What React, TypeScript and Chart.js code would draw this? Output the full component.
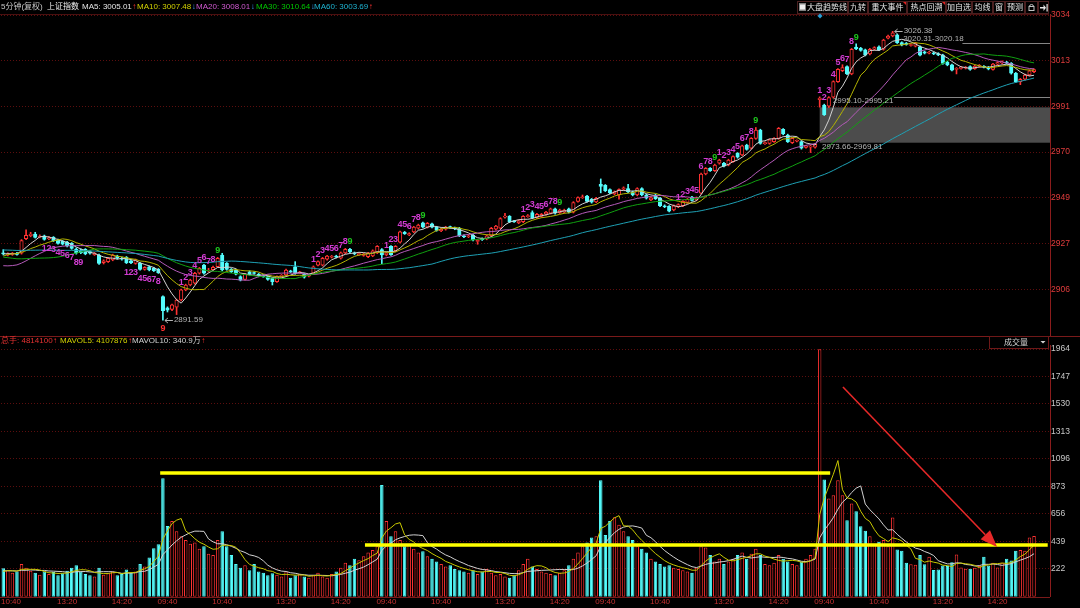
import React, { useEffect, useRef } from "react";
import { Chart, registerables } from "chart.js";
Chart.register(...registerables);

// ================= DATA =================
// 5-minute sessions of one trading day (categories)
const sessionTimes = [
  "09:35","09:40","09:45","09:50","09:55","10:00","10:05","10:10","10:15","10:20","10:25","10:30",
  "10:35","10:40","10:45","10:50","10:55","11:00","11:05","11:10","11:15","11:20","11:25","11:30",
  "13:05","13:10","13:15","13:20","13:25","13:30","13:35","13:40","13:45","13:50","13:55","14:00",
  "14:05","14:10","14:15","14:20","14:25","14:30","14:35","14:40","14:45","14:50","14:55","15:00",
];
const firstDayStart = 13; // first visible bar is 10:40
const fullDays = 4;
const padSlots = 3;
const shownTimes = ["09:40", "10:40", "13:20", "14:20"];

const opens = [
  // day 1
  2923.0,2922.0,2922.3,2922.8,2922.8,2929.6,2931.0,2931.8,2930.4,2930.9,2929.6,2930.2,2929.0,2928.4,2928.0,2927.4,2924.8,2924.4,2924.6,2923.6,2922.2,2922.0,2918.4,2918.9,2919.7,2921.5,2920.6,2920.9,2919.3,2918.1,2918.1,2915.3,2916.5,2915.8,2915.3,
  // day 2
  2902.6,2897.4,2896.6,2897.6,2901.0,2905.7,2908.0,2908.8,2913.5,2917.3,2914.6,2915.2,2916.6,2922.0,2918.1,2915.3,2915.0,2911.9,2910.6,2914.2,2913.8,2913.0,2912.3,2911.9,2911.1,2909.6,2912.0,2912.7,2914.5,2916.5,2913.8,2913.1,2912.2,2913.5,2917.3,2917.3,2920.0,2921.0,2921.5,2920.5,2923.0,2924.7,2923.0,2922.2,2921.8,2921.2,2921.6,2923.0,
  // day 3
  2924.5,2922.0,2926.0,2924.0,2928.0,2932.6,2931.4,2932.8,2934.5,2937.0,2935.0,2936.5,2935.0,2933.3,2934.0,2935.1,2934.6,2934.5,2931.0,2930.5,2931.3,2928.3,2929.6,2929.5,2931.0,2934.0,2934.5,2939.6,2940.0,2937.8,2937.0,2937.5,2940.0,2941.8,2939.5,2940.0,2941.0,2941.5,2943.5,2941.8,2942.0,2943.5,2942.0,2947.0,2948.8,2949.5,2948.0,2946.8,
  // day 4
  2955.0,2954.5,2952.5,2950.5,2950.0,2952.7,2953.0,2951.5,2950.0,2953.0,2950.0,2947.7,2950.0,2948.5,2945.0,2944.7,2943.0,2944.5,2945.0,2946.5,2949.0,2947.7,2950.8,2959.8,2962.4,2961.4,2964.8,2964.8,2964.0,2965.6,2969.4,2968.7,2973.3,2971.8,2976.4,2980.3,2974.0,2974.1,2974.9,2976.4,2980.6,2978.0,2974.4,2975.2,2974.9,2972.2,2972.4,2972.3,
  // day 5
  2994.5,2992.0,2991.5,2995.6,3002.9,3008.0,3009.9,3006.5,3019.0,3018.5,3017.7,3015.8,3018.0,3019.2,3018.0,3023.2,3024.2,3024.7,3021.1,3020.8,3019.8,3019.5,3019.2,3016.8,3016.2,3016.3,3016.0,3015.3,3012.0,3010.7,3008.6,3009.1,3009.2,3009.9,3009.0,3010.1,3010.0,3009.6,3008.6,3011.1,3011.6,3012.0,3011.4,3006.8,3002.9,3004.0,3006.0,3007.5,
];
const closes = [
  2922.5,2922.6,2922.8,2922.3,2928.7,2931.2,2931.8,2930.2,2930.8,2929.3,2930.0,2928.7,2927.4,2927.1,2926.2,2925.1,2922.8,2923.1,2922.5,2922.8,2922.8,2918.1,2919.3,2920.4,2922.0,2920.5,2920.0,2918.4,2918.4,2919.7,2915.3,2916.2,2915.0,2914.7,2913.8,
  2896.0,2896.2,2898.7,2901.0,2905.7,2908.0,2910.3,2913.5,2915.8,2913.5,2915.0,2916.2,2920.5,2915.0,2915.3,2914.2,2913.1,2910.3,2913.1,2913.1,2913.4,2912.2,2912.0,2910.6,2909.6,2911.9,2912.5,2915.0,2914.2,2913.4,2914.0,2911.6,2912.5,2916.5,2918.9,2920.5,2921.5,2921.4,2921.0,2923.0,2924.7,2923.5,2922.5,2922.6,2922.4,2922.9,2924.0,2926.0,
  2922.0,2923.0,2922.2,2926.0,2932.8,2932.0,2932.0,2935.0,2936.0,2935.0,2936.8,2935.0,2933.5,2934.0,2935.0,2934.9,2934.2,2931.0,2930.5,2931.0,2929.0,2928.8,2929.2,2931.0,2934.5,2935.5,2939.0,2940.2,2937.5,2937.6,2938.0,2940.0,2940.3,2939.3,2941.0,2941.0,2942.0,2943.5,2941.5,2943.0,2943.0,2942.0,2946.5,2948.8,2949.1,2947.0,2946.6,2948.5,
  2954.0,2952.0,2951.0,2951.5,2952.5,2953.4,2951.5,2950.0,2953.0,2950.0,2948.5,2948.7,2948.3,2945.0,2944.5,2942.5,2945.0,2945.5,2947.0,2948.0,2947.5,2948.7,2959.8,2962.4,2961.4,2964.0,2966.3,2963.5,2966.3,2967.9,2967.6,2972.9,2971.3,2976.4,2980.3,2974.1,2974.4,2975.7,2976.4,2981.1,2978.5,2974.9,2976.4,2975.4,2971.8,2972.8,2972.8,2973.66,
  2995.2,2987.5,2995.5,3002.9,3008.6,3009.5,3006.5,3018.0,3018.2,3017.5,3015.3,3018.0,3018.8,3017.7,3022.3,3024.2,3025.7,3021.1,3020.0,3020.3,3020.2,3020.8,3015.3,3016.2,3016.6,3015.9,3015.4,3011.4,3010.7,3008.3,3009.1,3009.6,3009.6,3008.6,3010.2,3010.5,3009.7,3008.8,3011.1,3011.8,3012.2,3011.5,3006.8,3002.9,3004.0,3006.0,3008.0,3008.5,
];
const highs = [
  2924.5,2923.0,2923.2,2923.3,2929.2,2933.7,2932.6,2932.6,2931.4,2931.3,2930.6,2930.6,2929.4,2928.8,2928.4,2927.8,2925.3,2924.8,2925.0,2924.0,2923.2,2922.4,2919.8,2920.8,2922.4,2921.9,2921.0,2921.3,2919.7,2920.1,2918.5,2916.6,2916.9,2916.2,2915.7,
  2903.0,2897.8,2899.1,2901.4,2906.1,2908.4,2910.7,2913.9,2916.2,2917.7,2915.8,2916.8,2920.9,2922.8,2918.5,2915.7,2915.4,2912.3,2913.5,2914.6,2914.2,2913.4,2912.7,2912.3,2911.5,2912.3,2912.9,2915.4,2914.9,2918.9,2914.4,2913.5,2912.9,2916.9,2919.3,2920.9,2921.9,2921.8,2921.9,2923.4,2925.1,2925.1,2923.4,2923.0,2922.8,2923.3,2924.4,2926.4,
  2925.0,2923.4,2926.4,2926.4,2933.2,2933.0,2932.4,2935.4,2936.4,2937.4,2937.2,2936.9,2935.4,2934.4,2935.4,2935.5,2935.0,2934.9,2931.4,2931.4,2931.7,2929.2,2930.0,2931.4,2934.9,2935.9,2939.4,2941.5,2940.4,2938.2,2938.4,2940.4,2940.9,2942.6,2941.4,2941.4,2942.4,2943.9,2943.9,2943.4,2943.4,2943.9,2946.9,2949.2,2950.0,2949.9,2948.4,2948.9,
  2957.5,2954.9,2952.9,2951.9,2952.9,2953.8,2955.0,2951.9,2953.4,2953.4,2950.4,2949.1,2950.4,2948.9,2945.4,2945.1,2945.4,2945.9,2947.4,2948.4,2949.4,2949.1,2960.2,2962.8,2962.8,2964.4,2966.7,2965.2,2966.7,2968.3,2969.8,2973.3,2973.7,2976.8,2981.5,2980.7,2974.8,2976.1,2976.8,2981.5,2981.0,2978.4,2976.8,2975.8,2975.3,2973.2,2973.2,2974.1,
  2995.8,2992.4,2995.9,3003.3,3009.0,3010.8,3010.3,3018.4,3020.5,3018.9,3018.1,3018.4,3019.2,3019.6,3022.7,3024.6,3026.38,3025.1,3021.5,3021.2,3020.6,3021.2,3019.6,3017.2,3017.0,3016.7,3016.4,3015.7,3012.4,3011.1,3009.5,3010.0,3010.0,3010.3,3010.6,3010.9,3010.4,3010.0,3011.5,3012.2,3012.6,3012.4,3011.8,3007.2,3004.4,3006.4,3008.4,3008.9,
];
const lows = [
  2922.0,2921.6,2921.8,2921.9,2922.4,2929.2,2930.5,2929.9,2930.0,2928.9,2929.2,2928.3,2927.0,2926.7,2925.8,2924.7,2922.4,2922.6,2922.1,2922.4,2921.8,2917.6,2917.8,2918.5,2919.3,2920.1,2919.6,2918.0,2918.0,2917.7,2914.9,2914.9,2914.6,2914.3,2913.4,
  2891.59,2895.4,2896.0,2894.2,2900.6,2905.3,2907.6,2908.4,2913.1,2913.1,2914.0,2914.8,2916.2,2914.6,2914.9,2913.8,2912.7,2909.9,2910.2,2912.7,2913.0,2911.8,2911.6,2910.2,2908.0,2909.2,2911.6,2912.3,2913.8,2913.0,2913.4,2911.2,2911.8,2913.1,2916.9,2916.9,2919.6,2920.6,2920.6,2920.1,2922.6,2923.1,2922.1,2921.8,2921.4,2920.8,2921.2,2922.6,
  2918.0,2921.6,2921.8,2923.6,2927.6,2931.6,2931.0,2932.4,2934.1,2934.6,2934.6,2934.6,2933.1,2932.9,2933.6,2934.5,2933.8,2930.6,2930.1,2930.1,2928.6,2927.0,2928.8,2929.1,2930.6,2933.6,2934.1,2939.2,2937.1,2937.2,2936.6,2937.1,2939.6,2938.9,2939.1,2939.6,2940.6,2941.1,2941.1,2941.4,2941.6,2941.6,2941.6,2946.6,2948.4,2946.6,2946.2,2946.4,
  2951.0,2951.6,2950.6,2950.1,2948.0,2952.3,2951.1,2949.6,2949.6,2949.6,2948.1,2947.3,2947.9,2944.6,2944.1,2942.1,2942.6,2944.1,2944.6,2946.1,2947.1,2947.3,2950.4,2959.4,2961.0,2961.0,2964.4,2963.1,2963.6,2965.2,2967.2,2968.3,2970.9,2971.4,2976.0,2973.7,2973.6,2973.7,2974.5,2976.0,2978.1,2974.5,2974.0,2974.8,2971.4,2971.8,2969.81,2971.9,
  2991.0,2987.1,2990.8,2995.2,3002.5,3007.6,3006.1,3006.1,3017.8,3017.1,3014.9,3015.4,3017.6,3017.3,3017.6,3022.8,3023.8,3020.7,3019.6,3019.9,3019.4,3019.1,3014.9,3015.8,3015.8,3015.5,3015.0,3011.0,3010.3,3007.9,3006.5,3008.7,3008.8,3008.2,3008.6,3009.7,3009.3,3008.4,3008.2,3010.7,3011.2,3011.1,3006.4,3002.5,3001.5,3003.6,3005.6,3007.1,
];
// volume in 万手
const volumes = [
  225,210,190,200,260,230,205,190,175,200,180,195,170,185,205,230,250,200,180,170,160,230,175,185,200,170,180,215,190,200,260,240,310,385,415,
  940,560,600,520,480,450,420,430,380,400,340,330,450,520,400,330,260,230,250,210,260,200,190,170,185,175,160,200,150,170,180,160,150,170,190,160,150,180,200,230,270,250,300,290,320,350,370,400,
  885,600,480,520,450,400,420,380,350,360,320,300,280,260,240,250,220,210,200,190,210,180,200,220,190,170,180,160,150,170,210,260,300,240,220,200,190,180,170,190,210,250,300,350,400,430,470,480,
  924,490,600,630,570,520,480,450,400,380,350,300,280,260,240,250,230,220,210,200,190,230,400,390,330,280,300,260,280,300,330,350,300,340,380,330,260,250,270,330,300,280,260,250,280,300,330,380,
  1962,929,778,805,924,805,607,739,678,559,522,480,420,435,450,400,628,375,364,269,258,253,330,258,317,211,216,248,243,274,335,232,222,222,230,243,317,248,269,232,269,300,288,365,370,365,470,481,
];
// closes / volumes of the bars just before the first visible one (moving-average warm-up)
const warmCloses = [
  2926,2927,2928,2927,2929,2930,2929,2928,2930,2931,2930,2929,2928,2927,2926,2927,2928,2927,2926,2925,2926,2927,2928,2929,2928,2927,2926,2927,2928,2927,
  2930,2931,2930,2929,2929,2928,2929,2928,2928,2928,
  2924,2920,2916,2912,2910,2908,2907,2909,2910,2909,
  2916,2919,2921,2923,2923.5,
  2922,2923,2922,2923,
];
const warmVolumes = [210,190,220,200,230,180,200,210,190];

const priceTicks = [2906, 2927.33, 2948.67, 2970, 2991.33, 3012.67, 3034];
const priceTickLabels = ["2906","2927","2949","2970","2991","3013","3034"];
const volTicks = [222, 439.75, 657.5, 875.25, 1093, 1310.75, 1528.5, 1746.25, 1964];
const volTickLabels = ["222","439","656","873","1096","1313","1530","1747","1964"];

// TD nine-count runs (first bar of each run)
const tdRunStarts = [9, 27, 39, 68, 84, 114, 148, 157, 179];
const tdRunBelow = [true, true, false, false, false, false, false, false, false];
const tdNineColor = ["#d23cd2", "#ff3030", "#1ec81e", "#1ec81e", "#1ec81e", "#1ec81e", "#1ec81e", "#1ec81e", "#1ec81e"];

// annotations (bar index, price)
const gapBox = { bar: 179, low: 2974.4, high: 2990.9 };
const levelLines = [ { bar: 195.3, price: 2995.6 }, { bar: 210.3, price: 3020.8 } ];
const rangeNotes = [
  { bar: 181.9, price: 2993.9, text: "2995.10-2995.21" },
  { bar: 179.5, price: 2972.4, text: "2973.66-2969.81" },
  { bar: 197.3, price: 3023.0, text: "3020.31-3020.18" },
];
const extremeNotes = [ { bar: 195, price: 3026.38, text: "3026.38" }, { bar: 35, price: 2891.59, text: "2891.59" } ];
const yellowLines = [ { from: 34.4, to: 181.3, vol: 981 }, { from: 79.3, to: 229.0, vol: 410 } ];
const redArrow = { fromBar: 184.1, fromVol: 1663, toBar: 217.9, toVol: 394 };

// ================= HELPERS =================
const FONT = '"Liberation Sans", Arial, "Noto Sans CJK SC", sans-serif';
const RED = "#ff3232";
const CYAN = "#54fcfc";
const MAG = "#d23cd2";
const N_BARS = closes.length;

const labels: string[] = [
  ...sessionTimes.slice(firstDayStart),
  ...Array.from({ length: fullDays }).flatMap(() => sessionTimes),
  ...Array.from({ length: padSlots }).map(() => ""),
];

function movingAverage(series: number[], warm: number[], n: number) {
  const all = warm.concat(series);
  const off = warm.length;
  return series.map((_, i) => {
    let s = 0;
    for (let k = 0; k < n; k++) s += all[off + i - k];
    return s / n;
  });
}

const up = closes.map((c, i) => c >= opens[i]);
const bodies = opens.map((o, i) => {
  let lo = Math.min(o, closes[i]);
  let hi = Math.max(o, closes[i]);
  if (hi - lo < 0.45) { const m = (hi + lo) / 2; lo = m - 0.22; hi = m + 0.22; }
  return [lo, hi];
});
const wicks = highs.map((h, i) => [lows[i], h]);

function drawSegs(ctx: any, segs: any[], y: number) {
  ctx.textBaseline = "middle";
  ctx.textAlign = "left";
  for (const s of segs) {
    ctx.fillStyle = s.c;
    ctx.fillText(s.t, s.x, y);
    if (s.arrow) {
      const w = ctx.measureText(s.t).width;
      ctx.fillStyle = s.ac;
      ctx.fillText(s.arrow, s.x + w + 0.5, y);
    }
  }
}

const headerSegs = [
  { x: 1, t: "5分钟(复权)", c: "#c8c8c8" },
  { x: 47, t: "上证指数", c: "#f0f0f0" },
  { x: 82, t: "MA5: 3005.01", c: "#e6e6e6", arrow: "↑", ac: RED },
  { x: 137, t: "MA10: 3007.48", c: "#d2d200", arrow: "↓", ac: "#3ca0ff" },
  { x: 196, t: "MA20: 3008.01", c: "#d25ad2", arrow: "↓", ac: "#3ca0ff" },
  { x: 256, t: "MA30: 3010.64", c: "#00c800", arrow: "↓", ac: "#3ca0ff" },
  { x: 314, t: "MA60: 3003.69", c: "#1eb4d2", arrow: "↑", ac: RED },
];
const volSegs = [
  { x: 1, t: "总手: 4814100", c: "#e63232", arrow: "↑", ac: RED },
  { x: 60, t: "MAVOL5: 4107876", c: "#d2d200", arrow: "↑", ac: RED },
  { x: 132, t: "MAVOL10: 340.9万", c: "#d2d2d2", arrow: "↑", ac: RED },
];
const buttons = [
  { x0: 797, x1: 848, t: "大盘趋势线", chk: true },
  { x0: 848, x1: 868, t: "九转" },
  { x0: 868, x1: 907, t: "重大事件", tri: true },
  { x0: 907, x1: 946, t: "热点回溯", tri: true },
  { x0: 946, x1: 972, t: "加自选" },
  { x0: 972, x1: 993, t: "均线" },
  { x0: 993, x1: 1005, t: "窗" },
  { x0: 1005, x1: 1025, t: "预测" },
  { x0: 1025, x1: 1038, t: "", lock: true },
  { x0: 1038, x1: 1049, t: "", exit: true },
];

const pricePlugin = {
  id: "priceDecor",
  beforeDatasetsDraw(chart: any) {
    const { ctx, chartArea: a, scales } = chart;
    const x = scales.x, y = scales.y;
    ctx.save();
    const bx = x.getPixelForValue(gapBox.bar);
    const t = y.getPixelForValue(gapBox.high), b = y.getPixelForValue(gapBox.low);
    ctx.fillStyle = "#4c4c4c";
    ctx.fillRect(bx, t, a.right - bx, b - t);
    ctx.strokeStyle = "#858585";
    ctx.lineWidth = 1;
    for (const l of levelLines) {
      const py = Math.round(y.getPixelForValue(l.price)) + 0.5;
      ctx.beginPath();
      ctx.moveTo(x.getPixelForValue(l.bar), py);
      ctx.lineTo(a.right, py);
      ctx.stroke();
    }
    ctx.restore();
  },
  afterDatasetsDraw(chart: any) {
    const { ctx, scales } = chart;
    const x = scales.x, y = scales.y;
    ctx.save();
    ctx.font = `8px ${FONT}`;
    ctx.textBaseline = "middle";
    ctx.textAlign = "left";
    ctx.fillStyle = "#b4b4b4";
    for (const n of rangeNotes) ctx.fillText(n.text, x.getPixelForValue(n.bar), y.getPixelForValue(n.price));
    ctx.strokeStyle = "#b4b4b4";
    ctx.lineWidth = 1;
    for (const n of extremeNotes) {
      const px = x.getPixelForValue(n.bar), py = Math.round(y.getPixelForValue(n.price)) + 0.5;
      ctx.beginPath();
      ctx.moveTo(px + 2, py); ctx.lineTo(px + 10, py);
      ctx.moveTo(px + 2, py); ctx.lineTo(px + 5, py - 2.5);
      ctx.moveTo(px + 2, py); ctx.lineTo(px + 5, py + 2.5);
      ctx.stroke();
      ctx.fillText(n.text, px + 11, py - 1);
    }
    // TD counts
    ctx.font = `bold 9px ${FONT}`;
    ctx.textAlign = "center";
    tdRunStarts.forEach((s, r) => {
      for (let k = 0; k < 9; k++) {
        const bar = s + k;
        const px = x.getPixelForValue(bar);
        const py = tdRunBelow[r] ? y.getPixelForValue(lows[bar]) + 8.5 : y.getPixelForValue(highs[bar]) - 6.5;
        ctx.fillStyle = k === 8 ? tdNineColor[r] : MAG;
        ctx.fillText(String(k + 1), px, py);
      }
    });
    ctx.restore();
  },
  afterDraw(chart: any) {
    const { ctx } = chart;
    ctx.save();
    ctx.font = `8px ${FONT}`;
    drawSegs(ctx, headerSegs, 7);
    // frame line
    ctx.strokeStyle = "#4a1010";
    ctx.lineWidth = 1;
    ctx.beginPath(); ctx.moveTo(0, 14.5); ctx.lineTo(1049, 14.5); ctx.stroke();
    // toolbar
    for (const b of buttons) {
      ctx.strokeStyle = "#4a2020";
      ctx.strokeRect(b.x0 + 0.5, 1.5, b.x1 - b.x0 - 1, 12);
      if (b.tri) {
        ctx.fillStyle = "#e02020";
        ctx.beginPath(); ctx.moveTo(b.x1 - 4, 2); ctx.lineTo(b.x1 - 1, 2); ctx.lineTo(b.x1 - 1, 5); ctx.closePath(); ctx.fill();
      }
      let tx = b.x0 + 2;
      if (b.chk) {
        ctx.fillStyle = "#f0f0f0"; ctx.fillRect(b.x0 + 2, 3.5, 7, 7);
        ctx.strokeStyle = "#888"; ctx.strokeRect(b.x0 + 2.5, 4, 6, 6);
        tx = b.x0 + 10;
      }
      if (b.t) {
        ctx.fillStyle = "#e6e6e6";
        ctx.textAlign = "left"; ctx.textBaseline = "middle";
        const w = ctx.measureText(b.t).width;
        const cx = b.chk ? tx : b.x0 + (b.x1 - b.x0 - w) / 2;
        ctx.fillText(b.t, cx, 7.5);
      }
      if (b.lock) {
        ctx.strokeStyle = "#c0c0c0"; ctx.lineWidth = 1;
        ctx.beginPath(); ctx.arc(b.x0 + 6.5, 6.5, 2, Math.PI, 0); ctx.stroke();
        ctx.strokeRect(b.x0 + 4, 6.5, 5, 4);
      }
      if (b.exit) {
        ctx.fillStyle = "#e6e6e6";
        ctx.fillRect(b.x0 + 2, 7, 4, 1.5);
        ctx.beginPath(); ctx.moveTo(b.x0 + 5.5, 4.5); ctx.lineTo(b.x0 + 8, 7.75); ctx.lineTo(b.x0 + 5.5, 11); ctx.closePath(); ctx.fill();
        ctx.fillRect(b.x0 + 8.5, 4, 1.2, 7.5);
      }
    }
    // marker diamond
    ctx.fillStyle = "#2a9fd6";
    ctx.beginPath(); ctx.moveTo(820, 13.5); ctx.lineTo(822.5, 16); ctx.lineTo(820, 18.5); ctx.lineTo(817.5, 16); ctx.closePath(); ctx.fill();
    ctx.restore();
  },
};

const volPlugin = {
  id: "volDecor",
  afterDatasetsDraw(chart: any) {
    const { ctx, scales } = chart;
    const x = scales.x, y = scales.y;
    ctx.save();
    ctx.strokeStyle = "#ffff00";
    ctx.lineWidth = 3.5;
    for (const l of yellowLines) {
      const py = y.getPixelForValue(l.vol);
      ctx.beginPath(); ctx.moveTo(x.getPixelForValue(l.from), py); ctx.lineTo(x.getPixelForValue(l.to), py); ctx.stroke();
    }
    // red arrow
    const x0 = x.getPixelForValue(redArrow.fromBar), y0 = y.getPixelForValue(redArrow.fromVol);
    const x1 = x.getPixelForValue(redArrow.toBar), y1 = y.getPixelForValue(redArrow.toVol);
    const ang = Math.atan2(y1 - y0, x1 - x0);
    const hl = 17, hw = 6.5;
    const bxp = x1 - hl * Math.cos(ang), byp = y1 - hl * Math.sin(ang);
    ctx.strokeStyle = "#e62828";
    ctx.fillStyle = "#e62828";
    ctx.lineWidth = 1.6;
    ctx.beginPath(); ctx.moveTo(x0, y0); ctx.lineTo(bxp, byp); ctx.stroke();
    ctx.beginPath();
    ctx.moveTo(x1, y1);
    ctx.lineTo(bxp + hw * Math.sin(ang), byp - hw * Math.cos(ang));
    ctx.lineTo(bxp - hw * Math.sin(ang), byp + hw * Math.cos(ang));
    ctx.closePath(); ctx.fill();
    ctx.restore();
  },
  afterDraw(chart: any) {
    const { ctx, chartArea: a, scales } = chart;
    const x = scales.x;
    ctx.save();
    ctx.strokeStyle = "#7a1a1a";
    ctx.lineWidth = 1;
    ctx.beginPath(); ctx.moveTo(0, 6.5); ctx.lineTo(1080, 6.5); ctx.stroke();
    ctx.beginPath(); ctx.moveTo(0, Math.round(a.bottom) + 0.5); ctx.lineTo(a.right, Math.round(a.bottom) + 0.5); ctx.stroke();
    ctx.font = `8px ${FONT}`;
    drawSegs(ctx, volSegs, 11);
    // 成交量 box
    ctx.strokeStyle = "#6e1818";
    ctx.strokeRect(989.5, 6.5, 59, 12);
    ctx.fillStyle = "#d2d2d2";
    ctx.textAlign = "center";
    ctx.fillText("成交量", 1016, 12.5);
    ctx.beginPath(); ctx.moveTo(1040.5, 11); ctx.lineTo(1045.5, 11); ctx.lineTo(1043, 13.5); ctx.closePath(); ctx.fill();
    // time labels
    ctx.fillStyle = "#c83232";
    ctx.textBaseline = "middle";
    for (let i = 0; i < N_BARS; i++) {
      if (!shownTimes.includes(labels[i])) continue;
      const w = ctx.measureText(labels[i]).width;
      const px = Math.max(x.getPixelForValue(i), w / 2 + 1);
      ctx.fillText(labels[i], px, 271.5);
    }
    ctx.restore();
  },
};

function yAxis(min: number, max: number, ticks: number[], tickLabels: string[], color: string) {
  return {
    position: "right",
    min, max,
    afterFit: (s: any) => { s.width = 30; s.paddingTop = 0; s.paddingBottom = 0; },
    afterBuildTicks: (s: any) => { s.ticks = ticks.map((v) => ({ value: v })); },
    ticks: { color, font: { size: 8.5, family: FONT }, padding: 1, autoSkip: false, callback: (_v: any, idx: number) => tickLabels[idx] },
    grid: { color: "#5c0e0e", drawTicks: false, lineWidth: 1 },
    border: { display: true, color: "#8b1c1c", dash: [1, 2] },
  };
}

export default function App() {
  const priceRef = useRef<HTMLCanvasElement>(null);
  const volRef = useRef<HTMLCanvasElement>(null);

  useEffect(() => {
    const ma = (n: number) => movingAverage(closes, warmCloses, n);
    const line = (data: number[], color: string) => ({
      type: "line", data, borderColor: color, borderWidth: 1, pointRadius: 0, tension: 0, order: 0,
    });
    const pc = new Chart(priceRef.current as any, {
      type: "bar",
      data: {
        labels,
        datasets: [
          line(ma(60), "#1ea0b4") as any,
          line(ma(30), "#10a010") as any,
          line(ma(20), "#b45ab9") as any,
          line(ma(10), "#b4b400") as any,
          line(ma(5), "#d2d2d2") as any,
          {
            type: "bar", data: bodies as any, order: 1, grouped: false, barThickness: 3.5, borderWidth: 1, borderSkipped: false,
            backgroundColor: up.map((u) => (u ? "#000000" : CYAN)),
            borderColor: up.map((u) => (u ? RED : CYAN)),
          },
          {
            type: "bar", data: wicks as any, order: 2, grouped: false, barThickness: 1, borderWidth: 0,
            backgroundColor: up.map((u) => (u ? RED : CYAN)),
          },
        ],
      },
      options: {
        responsive: false, animation: false, devicePixelRatio: 1, events: [],
        layout: { padding: { left: 1, right: 0, top: 14, bottom: 2 } },
        plugins: { legend: { display: false }, tooltip: { enabled: false } },
        scales: {
          x: { type: "category", display: false, offset: true, grid: { display: false } },
          y: yAxis(2884.2, 3034.47, priceTicks, priceTickLabels, "#e03c3c") as any,
        },
      },
      plugins: [pricePlugin],
    } as any);

    const vma = (n: number) => movingAverage(volumes, warmVolumes, n);
    const vc = new Chart(volRef.current as any, {
      type: "bar",
      data: {
        labels,
        datasets: [
          { type: "line", data: vma(5), borderColor: "#c8c800", borderWidth: 1, pointRadius: 0, order: 0 } as any,
          { type: "line", data: vma(10), borderColor: "#d2d2d2", borderWidth: 1, pointRadius: 0, order: 0 } as any,
          {
            type: "bar", data: volumes, order: 1, barPercentage: 0.76, categoryPercentage: 1, borderWidth: 1, borderSkipped: false,
            backgroundColor: up.map((u) => (u ? "#000000" : CYAN)),
            borderColor: up.map((u) => (u ? RED : CYAN)),
          },
        ],
      },
      options: {
        responsive: false, animation: false, devicePixelRatio: 1, events: [],
        layout: { padding: { left: 1, right: 0, top: 15, bottom: 11.3 } },
        plugins: { legend: { display: false }, tooltip: { enabled: false } },
        scales: {
          x: { type: "category", display: false, offset: true, grid: { display: false } },
          y: yAxis(0, 1996, volTicks, volTickLabels, "#c8c8c8") as any,
        },
      },
      plugins: [volPlugin],
    } as any);
    return () => { pc.destroy(); vc.destroy(); };
  }, []);

  return (
    <div style={{ position: "fixed", left: 0, top: 0, width: 1080, height: 608, background: "#000", overflow: "hidden" }}>
      <canvas ref={priceRef} width={1080} height={338} style={{ position: "absolute", left: 0, top: 0 }} />
      <canvas ref={volRef} width={1080} height={278} style={{ position: "absolute", left: 0, top: 330 }} />
    </div>
  );
}
